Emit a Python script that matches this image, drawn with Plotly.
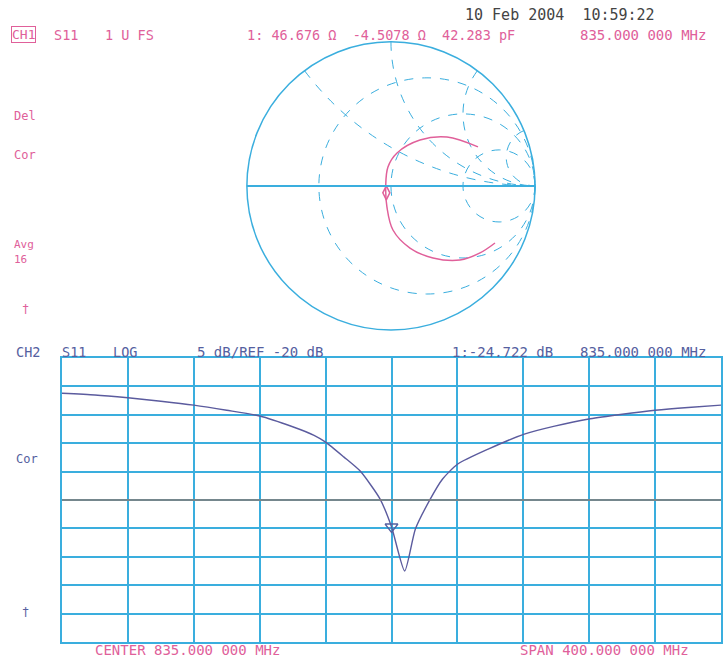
import plotly.graph_objects as go

# ---------------- data ----------------
# Lower trace: S11 log magnitude (dB) vs frequency (MHz)
freq_mhz = [635, 655, 675, 695, 715, 735, 755, 775, 788, 795, 806, 816, 828,
            835, 843, 849.5, 858.6, 866, 875, 894, 915.6, 934, 955.6, 975,
            995, 1015, 1035]
s11_db = [-1.2, -1.5, -2.0, -2.6, -3.3, -4.2, -5.2, -7.1, -8.6, -9.8, -12.4,
          -14.9, -19.8, -24.7, -32.5, -25.1, -19.8, -16.3, -13.7, -11.0, -8.4,
          -7.0, -5.7, -4.9, -4.2, -3.7, -3.3]

# Upper trace: S11 on Smith chart (normalised impedance r + jx)
smith_r = [2.44, 1.50, 1.16, 0.975, 0.927, 0.93, 0.907, 0.850, 0.848, 0.885,
           0.945, 1.11, 1.375]
smith_x = [2.354, 1.391, 0.862, 0.472, 0.249, 0.0, -0.271, -0.574, -0.918,
           -1.331, -1.919, -2.568, -3.383]

marker_freq = 835.0
marker_db = -24.722
marker_r = 0.9335
marker_x = -0.0902

ref_level_db = -20
db_per_div = 5
center_mhz = 835
span_mhz = 400

smith_r_grid = [0.333, 1, 3]
smith_x_grid = [0.5, 1, 2, 5]

# ---------------- styles ----------------
GRID = "#3aaede"
PINK = "#e0609a"
TRACE2 = "#5b5b9e"
CH2TXT = "#5560a0"
REFC = "#8a7a72"
FONT = "DejaVu Sans Mono"

fig = go.Figure()

fig.add_trace(go.Scatter(x=freq_mhz, y=s11_db, mode="lines",
                         line=dict(color=TRACE2, width=1.4, shape="spline", smoothing=0.6),
                         showlegend=False, hoverinfo="skip"))
fig.add_trace(go.Scatter(x=[marker_freq], y=[marker_db], mode="markers",
                         marker=dict(symbol="triangle-down-open", size=11,
                                     color=CH2TXT, line=dict(width=1.5)),
                         showlegend=False, hoverinfo="skip"))

fig.add_trace(go.Scattersmith(real=smith_r, imag=smith_x, mode="lines",
                              line=dict(color=PINK, width=1.5, shape="spline"),
                              subplot="smith", showlegend=False, hoverinfo="skip"))
fig.add_trace(go.Scattersmith(real=[marker_r], imag=[marker_x], mode="markers",
                              marker=dict(symbol="diamond-tall-open", size=10,
                                          color=PINK, line=dict(width=1.5)),
                              subplot="smith", showlegend=False, hoverinfo="skip"))

lo = center_mhz - span_mhz / 2
hi = center_mhz + span_mhz / 2
top = ref_level_db + 5 * db_per_div
bot = ref_level_db - 5 * db_per_div

fig.add_hline(y=ref_level_db, line=dict(color=REFC, width=1.5))

fig.update_layout(
    width=724, height=664,
    margin=dict(l=0, r=0, t=0, b=0),
    paper_bgcolor="white", plot_bgcolor="white",
    showlegend=False,
    xaxis=dict(domain=[0.0856, 0.9959], range=[lo, hi], dtick=span_mhz / 10,
               tick0=lo, showticklabels=False, ticks="", showgrid=True,
               gridcolor=GRID, gridwidth=1.6, zeroline=False,
               showline=True, linecolor=GRID, linewidth=1.6, mirror=True),
    yaxis=dict(domain=[0.0331, 0.4608], range=[bot, top], dtick=db_per_div,
               tick0=bot, showticklabels=False, ticks="", showgrid=True,
               gridcolor=GRID, gridwidth=1.6, zeroline=False,
               showline=True, linecolor=GRID, linewidth=1.6, mirror=True),
    smith=dict(
        domain=dict(x=[0.341, 0.739], y=[0.503, 0.937]),
        bgcolor="white",
        realaxis=dict(tickvals=smith_r_grid, showticklabels=False, ticks="",
                      gridcolor=GRID, griddash="dash", gridwidth=1.2,
                      linecolor=GRID, linewidth=2),
        imaginaryaxis=dict(tickvals=smith_x_grid, showticklabels=False, ticks="",
                           gridcolor=GRID, griddash="dash", gridwidth=1.2,
                           linecolor=GRID, linewidth=1.5),
    ),
)

def txt(x, y, s, color, size=13.5, anchor="left"):
    fig.add_annotation(x=x / 724, y=1 - y / 664, xref="paper", yref="paper",
                       text=s, showarrow=False, xanchor=anchor, yanchor="middle",
                       font=dict(family=FONT, size=size, color=color))

txt(560, 15, "10 Feb 2004  10:59:22", "#444444", size=15, anchor="center")
fig.add_annotation(x=23 / 724, y=1 - 35 / 664, xref="paper", yref="paper",
                   text="CH1", showarrow=False, xanchor="center", yanchor="middle",
                   bordercolor=PINK, borderwidth=1, borderpad=0,
                   font=dict(family=FONT, size=13, color=PINK))
txt(52, 35, "S11", PINK)
txt(103, 35, "1 U FS", PINK)
txt(245, 35, "1: 46.676 Ω  -4.5078 Ω  42.283 pF", PINK)
txt(578, 35, "835.000 000 MHz", PINK, size=14)
txt(12, 116, "Del", PINK, size=12)
txt(12, 155, "Cor", PINK, size=12)
txt(12, 244, "Avg", PINK, size=11)
txt(12, 259, "16", PINK, size=11)
txt(20, 309, "†", PINK, size=12)

txt(14, 352, "CH2", CH2TXT)
txt(60, 352, "S11", CH2TXT)
txt(111, 352, "LOG", CH2TXT)
txt(195, 352, "5 dB/REF -20 dB", CH2TXT, size=14)
txt(450, 352, "1:-24.722 dB", CH2TXT, size=14)
txt(578, 352, "835.000 000 MHz", CH2TXT, size=14)
txt(14, 459, "Cor", CH2TXT, size=12)
txt(20, 612, "†", CH2TXT, size=12)
txt(93, 650, "CENTER 835.000 000 MHz", PINK, size=14)
txt(518, 650, "SPAN 400.000 000 MHz", PINK, size=14)

fig.write_html("out.html", config={"displayModeBar": False},
               post_script="document.body.style.margin='0';")
